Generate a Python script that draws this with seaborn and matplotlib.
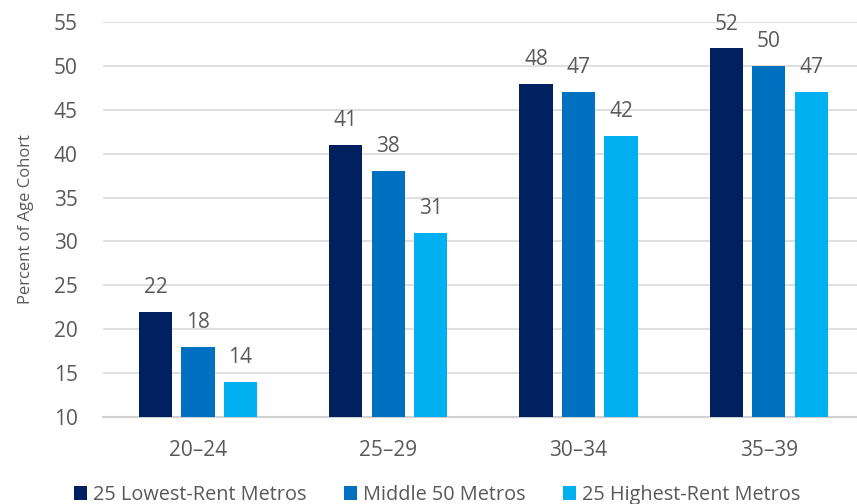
import matplotlib
matplotlib.use("Agg")
import matplotlib.pyplot as plt
import seaborn as sns
import pandas as pd

categories = ["20–24", "25–29", "30–34", "35–39"]
series = ["25 Lowest-Rent Metros", "Middle 50 Metros", "25 Highest-Rent Metros"]
lowest = [22, 41, 48, 52]
middle = [18, 38, 47, 50]
highest = [14, 31, 42, 47]
colors = ["#002060", "#0070C0", "#00B0F0"]

rows = []
for s, vals in zip(series, [lowest, middle, highest]):
    for c, v in zip(categories, vals):
        rows.append({"cat": c, "series": s, "value": v})
df = pd.DataFrame(rows)

sns.set_style("white")
plt.rcParams["font.family"] = ["Open Sans", "DejaVu Sans"]
txt = "#595959"

fig = plt.figure(figsize=(8.57, 5.04), dpi=100)
ax = fig.add_axes([0.12, 0.173, 0.888, 0.783])
sns.barplot(data=df, x="cat", y="value", hue="series", palette=colors,
            saturation=1, linewidth=0, edgecolor="none",
            width=0.67, gap=0.22, ax=ax, legend=True, zorder=3)

ax.set_ylim(10, 55)
ax.set_yticks(range(10, 56, 5))
ax.yaxis.grid(True, color="#d9d9d9", linewidth=1.2, zorder=0)
ax.set_axisbelow(True)
for sp in ["top", "right", "left"]:
    ax.spines[sp].set_visible(False)
ax.spines["bottom"].set_color("#d0d0d0")
ax.spines["bottom"].set_linewidth(1.5)
ax.tick_params(axis="both", length=0, labelsize=15, colors=txt)
ax.tick_params(axis="y", pad=18)
ax.tick_params(axis="x", pad=17)
ax.set_xlabel("")
ax.set_ylabel("Percent of Age Cohort", fontsize=12, color=txt, labelpad=14)

for cont in ax.containers:
    ax.bar_label(cont, labels=[f"{int(v)}" for v in cont.datavalues],
                 padding=10, fontsize=15, color=txt)

ax.legend(loc="center", bbox_to_anchor=(0.439, -0.198), ncol=3, frameon=False,
          fontsize=14.3, labelcolor=txt, handlelength=0.65, handleheight=0.65,
          handletextpad=0.3, columnspacing=1.9, borderaxespad=0,
          bbox_transform=ax.transAxes)

fig.savefig("out.png", dpi=100)
